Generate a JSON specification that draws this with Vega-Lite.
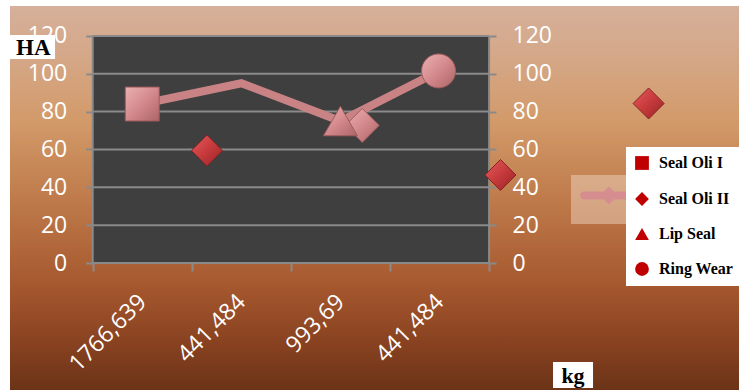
{
  "$schema": "https://vega.github.io/schema/vega-lite/v6.json",
  "width": 729,
  "height": 384,
  "autosize": {"type": "none"},
  "padding": {"left": 10, "top": 6, "right": 0, "bottom": 0},
  "background": "#ffffff",
  "view": {
    "stroke": null,
    "fill": {
      "gradient": "linear", "x1": 0, "y1": 0, "x2": 0, "y2": 1,
      "stops": [
        {"offset": 0, "color": "#d6b09b"},
        {"offset": 0.15, "color": "#d4a685"},
        {"offset": 0.3, "color": "#d39a69"},
        {"offset": 0.5, "color": "#bf7b4b"},
        {"offset": 0.72, "color": "#a7592f"},
        {"offset": 0.87, "color": "#8a4321"},
        {"offset": 1, "color": "#6b3317"}
      ]
    }
  },
  "config": {
    "axis": {
      "labelFont": "Open Sans",
      "labelFontSize": 23,
      "labelColor": "#ffffff",
      "tickColor": "#8a8a8a",
      "tickWidth": 2,
      "domain": false,
      "grid": false,
      "title": null
    }
  },
  "datasets": {
    "line": [
      {"x": 0.5, "v": 84, "s": "Series"},
      {"x": 1.5, "v": 95, "s": "Series"},
      {"x": 2.5, "v": 75, "s": "Series"},
      {"x": 3.5, "v": 101.5, "s": "Series"}
    ],
    "markers": [
      {"series": "Seal Oli I", "x": 0.5, "v": 84},
      {"series": "Seal Oli II", "x": 2.72, "v": 72.7},
      {"series": "Lip Seal", "x": 2.5, "v": 75},
      {"series": "Ring Wear", "x": 3.49, "v": 101.5}
    ],
    "red": [
      {"series": "Seal Oli II", "x": 1.153, "v": 59.4},
      {"series": "Seal Oli II", "x": 4.115, "v": 46.5},
      {"series": "Seal Oli II", "x": 5.61, "v": 84.3}
    ],
    "grid": [{"g": 0}, {"g": 20}, {"g": 40}, {"g": 60}, {"g": 80}, {"g": 100}, {"g": 120}]
  },
  "layer": [
    {
      "data": {"values": [{}]},
      "mark": {"type": "rect", "fill": "#3f3f3f"},
      "encoding": {
        "x": {"datum": 0, "type": "quantitative", "scale": {"domain": [-0.8345, 6.522], "nice": false, "zero": false}},
        "x2": {"datum": 4},
        "y": {
          "datum": 0, "type": "quantitative",
          "scale": {"domain": [-67.1, 135.8], "nice": false, "zero": false},
          "axis": {"orient": "left", "offset": -82.7, "values": [0, 20, 40, 60, 80, 100, 120], "tickSize": 7, "labelPadding": 19, "title": null}
        },
        "y2": {"datum": 120}
      }
    },
    {
      "data": {"name": "grid"},
      "mark": {"type": "rule", "stroke": "#8a8a8a", "strokeWidth": 2},
      "encoding": {
        "x": {
          "datum": 0, "type": "quantitative",
          "scale": {"domain": [-0.8345, 6.522], "nice": false, "zero": false},
          "axis": {
            "title": null,
            "orient": "bottom", "offset": -127,
            "values": [0, 0.5, 1, 1.5, 2, 2.5, 3, 3.5, 4],
            "tickSize": 8,
            "tickOpacity": {"condition": {"test": "datum.value % 1 !== 0", "value": 0}, "value": 1},
            "labelExpr": "datum.value == 0.5 ? '1766,639' : datum.value == 1.5 ? '441,484' : datum.value == 2.5 ? '993,69' : datum.value == 3.5 ? '441,484' : ''",
            "labelAngle": -45, "labelAlign": "right", "labelBaseline": "middle",
            "labelPadding": 27, "labelOverlap": false, "labelBound": false, "labelFlush": false
          }
        },
        "x2": {"datum": 4},
        "y": {
          "field": "g", "type": "quantitative",
          "scale": {"domain": [-67.1, 135.8], "nice": false, "zero": false},
          "axis": {"orient": "right", "offset": -250, "values": [0, 20, 40, 60, 80, 100, 120], "tickSize": 7, "labelPadding": 16, "title": null}
        }
      }
    },
    {
      "data": {"values": [{}]},
      "mark": {"type": "rule", "stroke": "#8a8a8a", "strokeWidth": 2},
      "encoding": {
        "x": {"datum": 0, "type": "quantitative", "scale": {"domain": [-0.8345, 6.522], "nice": false, "zero": false}},
        "y": {"datum": 0, "type": "quantitative", "scale": {"domain": [-67.1, 135.8], "nice": false, "zero": false}, "axis": null},
        "y2": {"datum": 120}
      }
    },
    {
      "data": {"values": [{}]},
      "mark": {"type": "rule", "stroke": "#8a8a8a", "strokeWidth": 2},
      "encoding": {
        "x": {"datum": 4, "type": "quantitative", "scale": {"domain": [-0.8345, 6.522], "nice": false, "zero": false}},
        "y": {"datum": 0, "type": "quantitative", "scale": {"domain": [-67.1, 135.8], "nice": false, "zero": false}, "axis": null},
        "y2": {"datum": 120}
      }
    },
    {
      "data": {"name": "line"},
      "mark": {"type": "line", "strokeWidth": 8, "strokeJoin": "miter"},
      "encoding": {
        "x": {"field": "x", "type": "quantitative", "scale": {"domain": [-0.8345, 6.522], "nice": false, "zero": false}},
        "y": {"field": "v", "type": "quantitative", "scale": {"domain": [-67.1, 135.8], "nice": false, "zero": false}, "axis": null},
        "color": {
          "field": "s", "type": "nominal",
          "scale": {"domain": ["Series"], "range": ["#c98385"]},
          "legend": {
            "orient": "none", "legendX": 561, "legendY": 169, "title": null,
            "fillColor": "rgba(245,222,205,0.45)", "padding": 19.5,
            "symbolType": "M-7.5,-4H36V4H-7.5A4,4 0 0 1 -7.5,-4Z M17.5,-9L26.5,0L17.5,9L8.5,0Z",
            "symbolSize": 4,
            "labelExpr": "''", "labelFontSize": 1, "labelOffset": 0,
            "encode": {"symbols": {"update": {"fill": {"value": "#d68d90"}, "stroke": {"value": "transparent"}, "strokeWidth": {"value": 0}, "opacity": {"value": 1}}}}
          }
        }
      }
    },
    {
      "data": {"name": "markers"},
      "mark": {
        "type": "point", "filled": true, "opacity": 1,
        "fill": {"gradient": "linear", "x1": 0, "y1": 0, "x2": 1, "y2": 1,
          "stops": [{"offset": 0, "color": "#eab0b2"}, {"offset": 0.5, "color": "#d48a8d"}, {"offset": 1, "color": "#ad6466"}]},
        "stroke": "#9e5b5d", "strokeWidth": 1
      },
      "encoding": {
        "x": {"field": "x", "type": "quantitative", "scale": {"domain": [-0.8345, 6.522], "nice": false, "zero": false}},
        "y": {"field": "v", "type": "quantitative", "scale": {"domain": [-67.1, 135.8], "nice": false, "zero": false}, "axis": null},
        "shape": {
          "field": "series", "type": "nominal",
          "scale": {"domain": ["Seal Oli I", "Seal Oli II", "Lip Seal", "Ring Wear"], "range": ["square", "diamond", "triangle-up", "circle"]},
          "legend": null
        },
        "size": {
          "field": "series", "type": "nominal",
          "scale": {"domain": ["Ring Wear", "Lip Seal", "Seal Oli II", "Seal Oli I"], "range": [1156, 1150, 560, 1024]},
          "legend": null
        }
      }
    },
    {
      "data": {"name": "markers"},
      "mark": {"type": "point", "filled": true, "opacity": 0, "fill": "#c00000", "stroke": "#000000", "strokeWidth": 1},
      "encoding": {
        "x": {"field": "x", "type": "quantitative", "scale": {"domain": [-0.8345, 6.522], "nice": false, "zero": false}},
        "y": {"field": "v", "type": "quantitative", "scale": {"domain": [-67.1, 135.8], "nice": false, "zero": false}, "axis": null},
        "shape": {
          "field": "series", "type": "nominal",
          "scale": {"domain": ["Seal Oli I", "Seal Oli II", "Lip Seal", "Ring Wear"], "range": ["square", "diamond", "triangle-up", "circle"]},
          "legend": {
            "orient": "none", "legendX": 616, "legendY": 141, "title": null,
            "fillColor": "#ffffff", "padding": 8, "rowPadding": 18,
            "labelFont": "Liberation Serif", "labelFontWeight": "bold", "labelFontSize": 16, "labelColor": "#000000",
            "labelOffset": 9, "symbolSize": 190, "symbolOpacity": 1,
            "symbolFillColor": "#c00000", "symbolStrokeColor": "#000000", "symbolStrokeWidth": 1
          }
        }
      }
    },
    {
      "data": {"name": "red"},
      "mark": {
        "type": "point", "filled": true, "opacity": 1, "shape": "diamond", "size": 961,
        "fill": {"gradient": "linear", "x1": 0, "y1": 0, "x2": 1, "y2": 1,
          "stops": [{"offset": 0, "color": "#e35b5d"}, {"offset": 0.5, "color": "#c73a3c"}, {"offset": 1, "color": "#962426"}]},
        "stroke": "#8a2224", "strokeWidth": 1
      },
      "encoding": {
        "x": {"field": "x", "type": "quantitative", "scale": {"domain": [-0.8345, 6.522], "nice": false, "zero": false}},
        "y": {"field": "v", "type": "quantitative", "scale": {"domain": [-67.1, 135.8], "nice": false, "zero": false}, "axis": null}
      }
    },
    {
      "data": {"values": [{}]},
      "mark": {"type": "rect", "fill": "#ffffff"},
      "encoding": {
        "x": {"datum": -0.8345, "type": "quantitative", "scale": {"domain": [-0.8345, 6.522], "nice": false, "zero": false}},
        "x2": {"datum": -0.38},
        "y": {"datum": 120.5, "type": "quantitative", "scale": {"domain": [-67.1, 135.8], "nice": false, "zero": false}, "axis": null},
        "y2": {"datum": 107.8}
      }
    },
    {
      "data": {"values": [{}]},
      "mark": {"type": "text", "text": "HA", "font": "Liberation Serif", "fontWeight": "bold", "fontSize": 23, "color": "#000000", "align": "center", "baseline": "middle"},
      "encoding": {
        "x": {"datum": -0.6, "type": "quantitative", "scale": {"domain": [-0.8345, 6.522], "nice": false, "zero": false}},
        "y": {"datum": 113.6, "type": "quantitative", "scale": {"domain": [-67.1, 135.8], "nice": false, "zero": false}, "axis": null}
      }
    },
    {
      "data": {"values": [{}]},
      "mark": {"type": "rect", "fill": "#ffffff"},
      "encoding": {
        "x": {"datum": 4.645, "type": "quantitative", "scale": {"domain": [-0.8345, 6.522], "nice": false, "zero": false}},
        "x2": {"datum": 5.049},
        "y": {"datum": -52.3, "type": "quantitative", "scale": {"domain": [-67.1, 135.8], "nice": false, "zero": false}, "axis": null},
        "y2": {"datum": -66.1}
      }
    },
    {
      "data": {"values": [{}]},
      "mark": {"type": "text", "text": "kg", "font": "Liberation Serif", "fontWeight": "bold", "fontSize": 22, "color": "#000000", "align": "center", "baseline": "middle"},
      "encoding": {
        "x": {"datum": 4.847, "type": "quantitative", "scale": {"domain": [-0.8345, 6.522], "nice": false, "zero": false}},
        "y": {"datum": -59.8, "type": "quantitative", "scale": {"domain": [-67.1, 135.8], "nice": false, "zero": false}, "axis": null}
      }
    }
  ],
  "resolve": {"scale": {"y": "independent", "shape": "independent"}}
}
